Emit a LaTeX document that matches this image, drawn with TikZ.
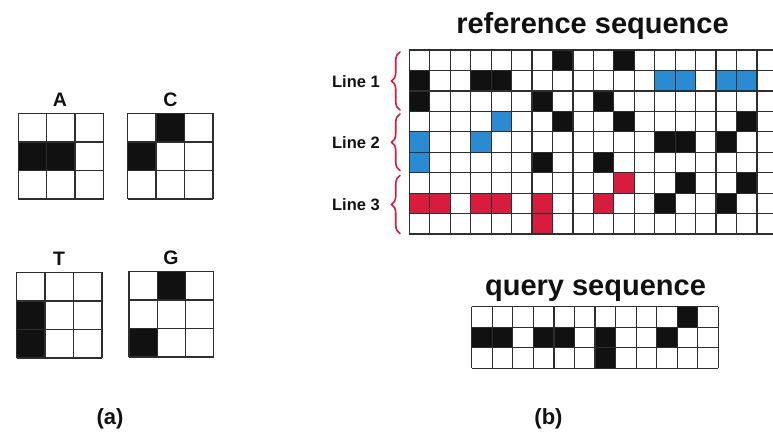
\documentclass[tikz,border=0pt]{standalone}
\usepackage{fontspec}
\setmainfont{Liberation Sans}
\usetikzlibrary{decorations.pathreplacing}

\definecolor{inkblack}{HTML}{111111}
\definecolor{cellred}{HTML}{D91C3E}
\definecolor{cellblue}{HTML}{2A8BD2}
\definecolor{gridgray}{HTML}{2E2E2E}

\begin{document}
\begin{tikzpicture}[x=1pt,y=-1pt,
  gridline/.style={draw=gridgray, line width=1.2pt},
  glyphline/.style={draw=gridgray, line width=1.4pt},
  k/.style={fill=inkblack},
  b/.style={fill=cellblue},
  r/.style={fill=cellred},
  title/.style={font=\fontsize{29}{31}\selectfont\bfseries, text=inkblack, anchor=base, inner sep=0pt},
  letter/.style={font=\fontsize{19.5}{21}\selectfont\bfseries, text=inkblack, anchor=base, inner sep=0pt},
  linelabel/.style={font=\fontsize{16.5}{18}\selectfont\bfseries, text=inkblack, anchor=base, inner sep=0pt},
  panel/.style={font=\fontsize{22}{24}\selectfont\bfseries, text=inkblack, anchor=base, inner sep=0pt},
  bracestyle/.style={draw=cellred, line width=1.6pt, line cap=round, decorate,
    decoration={brace, amplitude=8.5pt, aspect=0.5}}
]
\useasboundingbox (0,0) rectangle (773,432);
\fill[white] (0,0) rectangle (773,432);
\clip (0,0) rectangle (773,432);

% ---------- (a) the four nucleotide glyphs ----------
\node[letter] (labA) at (60,106) {A};
\node[letter] (labC) at (170.5,106) {C};
\node[letter] (labT) at (59,265) {T};
\node[letter] (labG) at (171,264.5) {G};

% A
\begin{scope}[shift={(18.3,113.3)}, x=28.4pt, y=-28.6pt]
  \foreach \c/\r in {0/1,1/1} \fill[k] (\c,\r) rectangle ++(1,1);
  \foreach \i in {0,...,3} {\draw[glyphline] (\i,0) -- (\i,3); \draw[glyphline] (0,\i) -- (3,\i);}
\end{scope}
% C
\begin{scope}[shift={(127.7,113.3)}, x=28.4pt, y=-28.5pt]
  \foreach \c/\r in {1/0,0/1} \fill[k] (\c,\r) rectangle ++(1,1);
  \foreach \i in {0,...,3} {\draw[glyphline] (\i,0) -- (\i,3); \draw[glyphline] (0,\i) -- (3,\i);}
\end{scope}
% T
\begin{scope}[shift={(16.7,272.3)}, x=28.4pt, y=-28.6pt]
  \foreach \c/\r in {0/1,0/2} \fill[k] (\c,\r) rectangle ++(1,1);
  \foreach \i in {0,...,3} {\draw[glyphline] (\i,0) -- (\i,3); \draw[glyphline] (0,\i) -- (3,\i);}
\end{scope}
% G
\begin{scope}[shift={(129,271.3)}, x=28.2pt, y=-28.6pt]
  \foreach \c/\r in {1/0,0/2} \fill[k] (\c,\r) rectangle ++(1,1);
  \foreach \i in {0,...,3} {\draw[glyphline] (\i,0) -- (\i,3); \draw[glyphline] (0,\i) -- (3,\i);}
\end{scope}

\node[panel] (pa) at (110,424) {(a)};

% ---------- (b) reference and query sequences ----------
\node[title] (reftitle) at (592.5,33) {reference sequence};

\begin{scope}[shift={(409.3,50)}, x=20.45pt, y=-20.45pt]
  \foreach \c/\r/\s in {
    7/0/k, 10/0/k,
    0/1/k, 3/1/k, 4/1/k, 12/1/b, 13/1/b, 15/1/b, 16/1/b,
    0/2/k, 6/2/k, 9/2/k,
    4/3/b, 7/3/k, 10/3/k, 16/3/k,
    0/4/b, 3/4/b, 12/4/k, 13/4/k, 15/4/k,
    0/5/b, 6/5/k, 9/5/k,
    10/6/r, 13/6/k, 16/6/k,
    0/7/r, 1/7/r, 3/7/r, 4/7/r, 6/7/r, 9/7/r, 12/7/k, 15/7/k,
    6/8/r}
    \fill[\s] (\c,\r) rectangle ++(1,1);
  \foreach \i in {0,...,18} \draw[gridline] (\i,0) -- (\i,9);
  \foreach \j in {0,...,9} \draw[gridline] (0,\j) -- (18,\j);
\end{scope}

% line labels and their braces
\node[linelabel] (line1) at (356,87.3) {Line 1};
\node[linelabel] (line2) at (356,148.8) {Line 2};
\node[linelabel] (line3) at (356,210.3) {Line 3};

\coordinate (b1top) at (400,52);
\coordinate (b1bot) at (400,110);
\coordinate (b2top) at (400,114);
\coordinate (b2bot) at (400,170.5);
\coordinate (b3top) at (400,175.5);
\coordinate (b3bot) at (400,233.5);
\draw[bracestyle] (b1bot) -- (b1top);
\draw[bracestyle] (b2bot) -- (b2top);
\draw[bracestyle] (b3bot) -- (b3top);

% query
\node[title] (qtitle) at (595.5,295.7) {query sequence};

\begin{scope}[shift={(471.7,306.7)}, x=20.55pt, y=-20.55pt]
  \foreach \c/\r in {10/0, 0/1, 1/1, 3/1, 4/1, 6/1, 9/1, 6/2}
    \fill[k] (\c,\r) rectangle ++(1,1);
  \foreach \i in {0,...,12} \draw[gridline] (\i,0) -- (\i,3);
  \foreach \j in {0,...,3} \draw[gridline] (0,\j) -- (12,\j);
\end{scope}

\node[panel] (pb) at (548.5,424) {(b)};
\end{tikzpicture}
\end{document}
